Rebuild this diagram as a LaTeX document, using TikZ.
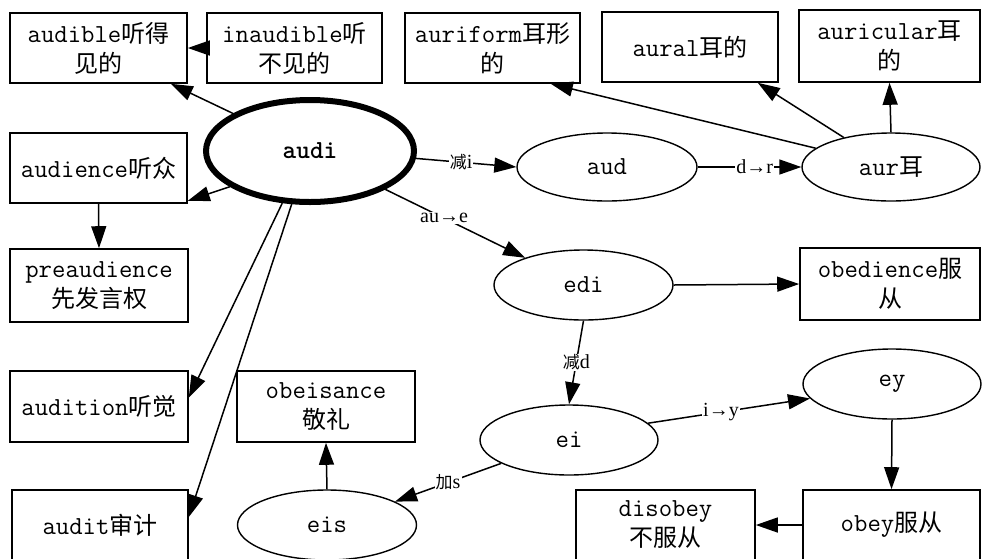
\documentclass[tikz,border=0pt]{standalone}
\usepackage{fontspec}
\setmainfont{Liberation Serif}
\newfontfamily\cjk{Noto Sans CJK SC}
\usetikzlibrary{shapes.geometric,arrows.meta}
\newcommand\zh[1]{{\cjk\fontsize{24}{30}\selectfont #1}}
\newcommand\zhs[1]{{\cjk\fontsize{17}{18}\selectfont #1}}
\begin{document}
\begin{tikzpicture}[x=1pt,y=-1pt,
  box/.style={draw,line width=1.6pt,inner sep=0pt,minimum width=177pt,minimum height=70pt,align=center,font=\ttfamily\fontsize{26}{30}\selectfont},
  oval/.style={draw,ellipse,line width=1.4pt,inner sep=0pt,minimum width=179pt,minimum height=70pt,font=\ttfamily\fontsize{26}{28}\selectfont},
  arr/.style={line width=1.5pt,-{Triangle[length=22pt,width=15pt]}},
  lab/.style={fill=white,inner sep=1pt,font=\rmfamily\fontsize{20}{20}\selectfont}]
\useasboundingbox (0,0) rectangle (982,558);
% boxes
\node[box] (audible) at (98.5,48) {audible\zh{听得}\\\zh{见的}};
\node[box,minimum width=175pt] (inaudible) at (294.5,48) {inaudible\zh{听}\\\zh{不见的}};
\node[box,minimum width=175pt] (auriform) at (492.5,48) {auriform\zh{耳形}\\\zh{的}};
\node[box,minimum width=176pt] (aural) at (690,47) {aural\zh{耳的}};
\node[box,minimum width=181pt,minimum height=72pt] (auricular) at (889.5,46) {auricular\zh{耳}\\\zh{的}};
\node[box] (audience) at (98.5,168) {audience\zh{听众}};
\node[box,minimum width=178pt,minimum height=73pt] (preaudience) at (99,285.5) {preaudience\\\zh{先发言权}};
\node[box,minimum width=178pt,minimum height=71pt] (audition) at (99,406.5) {audition\zh{听觉}};
\node[box,minimum width=176pt] (audit) at (100,525) {audit\zh{审计}};
\node[box,minimum width=178pt,minimum height=71pt] (obeisance) at (326,406.5) {obeisance\\\zh{敬礼}};
\node[box,minimum width=180pt,minimum height=72pt] (obedience) at (890,284) {obedience\zh{服}\\\zh{从}};
\node[box] (obey) at (891.5,525) {obey\zh{服从}};
\node[box,minimum width=179pt] (disobey) at (665.5,525) {disobey\\\zh{不服从}};
% ellipses
\node[oval,line width=6pt,minimum width=208pt,minimum height=102pt,font=\ttfamily\bfseries\fontsize{26}{28}\selectfont] (audi) at (310,151) {audi};
\node[oval,minimum width=180pt,minimum height=68pt] (aud) at (607,167) {aud};
\node[oval,minimum width=178pt,minimum height=68pt] (aur) at (891,167) {aur\zh{耳}};
\node[oval] (edi) at (583.5,285) {edi};
\node[oval,minimum width=178pt] (ei) at (569,440) {ei};
\node[oval,minimum width=178pt] (ey) at (892,384) {ey};
\node[oval] (eis) at (327,525) {eis};
% connectors
\draw[arr] (inaudible.west) -- (audible.east);
\draw[arr] (audi.154) -- ([xshift=-17pt]audible.south east);
\draw[arr] (audi.204) -- ([yshift=3pt]audience.south east);
\draw[arr] (audience.south) -- (preaudience.north);
\draw[arr] (audi.-118) -- ([yshift=9pt]audition.east);
\draw[arr] (audi.-109) -- ([yshift=8pt]audit.east);
\draw[arr] (audi.-4) -- node[lab,pos=0.45] {\zhs{减}i} (aud.west);
\draw[arr] (audi.-27) -- node[lab,pos=0.42] {au→e} (edi.155);
\draw[arr] (aud.east) -- node[lab,pos=0.55] {d→r} (aur.west);
\draw[arr] (aur.166) -- ([xshift=-30pt]auriform.south east);
\draw[arr] (aur.148) -- ([xshift=-21pt]aural.south east);
\draw[arr] (aur.north) -- (auricular.south);
\draw[arr] (edi.east) -- (obedience.west);
\draw[arr] (edi.south) -- node[lab,pos=0.5] {\zhs{减}d} (ei.north);
\draw[arr] (ei.12) -- node[lab,pos=0.45] {i→y} (ey.190);
\draw[arr] (ey.south) -- (obey.north);
\draw[arr] (obey.west) -- (disobey.east);
\draw[arr] (ei.199) -- node[lab,pos=0.5] {\zhs{加}s} (eis.19);
\draw[arr] (eis.north) -- (obeisance.south);
\end{tikzpicture}
\end{document}
